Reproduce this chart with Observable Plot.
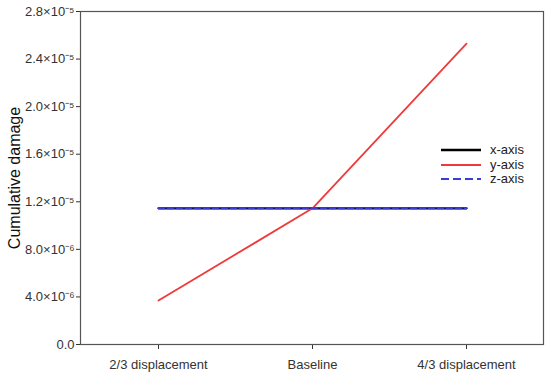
<!DOCTYPE html>
<html><head><meta charset="utf-8">
<script src="https://cdn.jsdelivr.net/npm/d3@7"></script>
<script src="https://cdn.jsdelivr.net/npm/@observablehq/plot@0.6"></script>
<style>
body{margin:0;background:#fff;font-family:"Liberation Sans",Arial,sans-serif;}
#wrap{position:relative;width:550px;height:377px;}
#legend{position:absolute;left:441px;top:143px;font-size:13px;color:#222;line-height:14.5px;}
#legend div{display:flex;align-items:center;height:14.5px;}
#legend svg{margin-right:9px;}
</style></head><body>
<div id="wrap"></div>
<script>
const categories = ["2/3 displacement", "Baseline", "4/3 displacement"];
const seriesNames = ["x-axis", "y-axis", "z-axis"];
const xAxisValues = [1.145e-5, 1.145e-5, 1.145e-5];
const yAxisValues = [3.7e-6, 1.145e-5, 2.53e-5];
const zAxisValues = [1.145e-5, 1.145e-5, 1.145e-5];
const yTicks = [0, 4e-6, 8e-6, 1.2e-5, 1.6e-5, 2.0e-5, 2.4e-5, 2.8e-5];
const colors = {"x-axis": "#000000", "y-axis": "#f03a3a", "z-axis": "#3b3bd6"};

const rows = [];
const allVals = [xAxisValues, yAxisValues, zAxisValues];
seriesNames.forEach((s, i) => categories.forEach((c, j) => rows.push({series: s, cat: c, value: allVals[i][j]})));

const sup = {"-":"⁻","0":"⁰","1":"¹","2":"²","3":"³","4":"⁴","5":"⁵","6":"⁶","7":"⁷","8":"⁸","9":"⁹"};
function fmt(v) {
  if (v === 0) return "0.0";
  const e = Math.floor(Math.log10(v) + 1e-9);
  const m = v / Math.pow(10, e);
  return m.toFixed(1) + "×10" + String(e).split("").map(ch => sup[ch]).join("");
}

const chart = Plot.plot({
  width: 550, height: 377,
  marginLeft: 80, marginRight: 7, marginTop: 11, marginBottom: 33,
  style: {fontFamily: "Liberation Sans, Arial, sans-serif", fontSize: "13px", color: "#333"},
  x: {type: "point", domain: categories, padding: 0.5, label: null, tickSize: 5, tickPadding: 10},
  y: {domain: [0, 2.8e-5], ticks: yTicks, tickFormat: fmt, label: "Cumulative damage", labelArrow: "none", labelAnchor: "center", labelOffset: 72, tickSize: 4, tickPadding: 2},
  marks: [
    Plot.frame({stroke: "#555", strokeWidth: 1.2}),
    Plot.line(rows.filter(d => d.series === "x-axis"), {x: "cat", y: "value", stroke: colors["x-axis"], strokeWidth: 2.2}),
    Plot.line(rows.filter(d => d.series === "y-axis"), {x: "cat", y: "value", stroke: colors["y-axis"], strokeWidth: 1.8}),
    Plot.line(rows.filter(d => d.series === "z-axis"), {x: "cat", y: "value", stroke: colors["z-axis"], strokeWidth: 2, strokeDasharray: "6,3"})
  ]
});
chart.querySelectorAll('[aria-label="y-axis label"]').forEach(el => {
  el.style.fontSize = "16px"; el.setAttribute("fill", "#111");
  el.querySelectorAll("text").forEach(t => { t.textContent = t.textContent.replace(/[↑→←↓]/g, "").trim(); });
});
document.getElementById("wrap").appendChild(chart);

const leg = document.createElement("div");
leg.id = "legend";
seriesNames.forEach(s => {
  const row = document.createElement("div");
  const dash = s === "z-axis" ? "stroke-dasharray='8,4'" : "";
  const sw = s === "x-axis" ? 2.5 : 2;
  row.innerHTML = `<svg width="40" height="6"><line x1="0" x2="40" y1="3" y2="3" stroke="${colors[s]}" stroke-width="${sw}" ${dash}/></svg><span>${s}</span>`;
  leg.appendChild(row);
});
document.getElementById("wrap").appendChild(leg);
</script>
</body></html>
